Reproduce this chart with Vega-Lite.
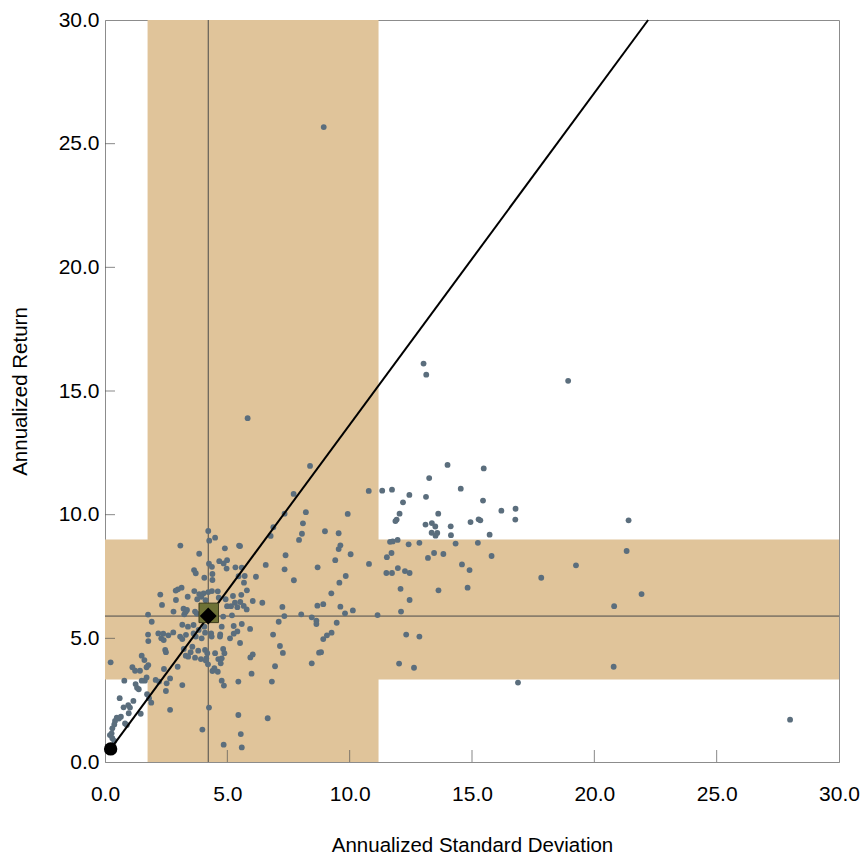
{
  "$schema": "https://vega.github.io/schema/vega-lite/v6.json",
  "width": 734,
  "height": 742,
  "autosize": {"type": "none"},
  "padding": {"left": 105, "top": 20, "right": 24, "bottom": 95},
  "background": "white",
  "config": {
    "view": {"stroke": "#8c8c8c", "strokeWidth": 1},
    "axis": {
      "grid": false,
      "ticks": false,
      "tickSize": 0,
      "zindex": 1,
      "domainColor": "#8c8c8c",
      "domainWidth": 1,
      "labelFont": "Liberation Sans, Arial",
      "labelFontSize": 21,
      "labelColor": "#000000",
      "titleFont": "Liberation Sans, Arial",
      "titleFontSize": 20.5,
      "titleFontWeight": "normal",
      "titleColor": "#000000"
    }
  },
  "datasets": {
    "pts": [
      {"x":8.94,"y":25.67},{"x":5.83,"y":13.90},{"x":13.02,"y":16.11},{"x":13.13,"y":15.66},{"x":18.93,"y":15.41},{"x":16.20,"y":10.16},{"x":16.78,"y":10.24},{"x":16.77,"y":9.80},{"x":21.40,"y":9.77},{"x":21.32,"y":8.53},{"x":19.25,"y":7.95},{"x":17.83,"y":7.45},{"x":21.93,"y":6.79},{"x":20.81,"y":6.30},{"x":20.79,"y":3.85},{"x":16.88,"y":3.21},{"x":28.0,"y":1.71},
      {"x":8.38,"y":11.97},{"x":14.0,"y":12.01},{"x":15.48,"y":11.87},{"x":13.25,"y":11.48},{"x":7.71,"y":10.84},{"x":10.78,"y":10.96},{"x":11.33,"y":10.97},{"x":11.73,"y":11.01},{"x":12.44,"y":10.80},{"x":13.12,"y":10.72},{"x":14.54,"y":11.05},{"x":12.18,"y":10.50},{"x":15.45,"y":10.57},{"x":7.34,"y":10.04},{"x":8.21,"y":10.10},{"x":9.92,"y":10.03},{"x":12.04,"y":10.04},{"x":11.92,"y":9.80},{"x":11.87,"y":9.74},{"x":13.62,"y":10.04},{"x":8.09,"y":9.65},{"x":8.05,"y":9.23},{"x":7.93,"y":8.98},{"x":8.99,"y":9.33},{"x":9.55,"y":9.25},{"x":13.10,"y":9.60},{"x":13.36,"y":9.66},{"x":13.50,"y":9.52},{"x":13.35,"y":9.27},{"x":13.58,"y":9.26},{"x":13.51,"y":9.15},{"x":14.13,"y":9.53},{"x":14.14,"y":9.17},{"x":14.94,"y":9.70},{"x":15.27,"y":9.81},{"x":15.34,"y":9.77},{"x":15.72,"y":9.19},{"x":9.62,"y":8.76},{"x":9.55,"y":8.61},{"x":10.04,"y":8.40},{"x":7.38,"y":8.36},{"x":9.41,"y":8.16},{"x":8.69,"y":7.87},{"x":7.34,"y":7.79},{"x":7.72,"y":7.35},{"x":9.58,"y":7.25},{"x":9.84,"y":7.52},{"x":9.25,"y":6.82},{"x":10.79,"y":8.01},{"x":11.65,"y":8.90},{"x":11.76,"y":8.92},{"x":11.96,"y":8.98},{"x":12.41,"y":8.80},{"x":12.85,"y":8.86},{"x":11.71,"y":8.45},{"x":11.52,"y":8.28},{"x":11.97,"y":7.84},{"x":11.50,"y":7.64},{"x":11.73,"y":7.64},{"x":12.26,"y":7.72},{"x":12.45,"y":7.64},{"x":13.20,"y":8.25},{"x":13.45,"y":8.45},{"x":13.83,"y":8.41},{"x":14.33,"y":8.83},{"x":15.24,"y":8.86},{"x":15.80,"y":8.33},{"x":14.59,"y":7.99},{"x":14.90,"y":7.76},{"x":14.82,"y":7.05},{"x":13.63,"y":6.94},{"x":12.08,"y":7.00},{"x":12.45,"y":6.55},{"x":12.10,"y":6.08},{"x":11.14,"y":5.94},{"x":7.25,"y":6.27},{"x":7.33,"y":5.90},{"x":8.02,"y":5.97},{"x":8.45,"y":5.85},{"x":8.68,"y":6.32},{"x":8.92,"y":6.38},{"x":8.64,"y":5.71},{"x":8.64,"y":5.58},{"x":9.62,"y":6.28},{"x":9.81,"y":6.01},{"x":10.13,"y":6.13},{"x":9.47,"y":5.63},{"x":8.92,"y":4.97},{"x":9.07,"y":5.12},{"x":9.26,"y":5.23},{"x":8.75,"y":4.42},{"x":8.83,"y":4.44},{"x":8.45,"y":3.99},{"x":7.15,"y":4.69},{"x":7.27,"y":4.41},{"x":12.31,"y":5.15},{"x":12.85,"y":5.07},{"x":12.02,"y":3.98},{"x":12.63,"y":3.81},
      {"x":6.88,"y":9.49},{"x":6.77,"y":9.14},{"x":5.52,"y":8.73},{"x":6.57,"y":7.97},{"x":5.71,"y":7.52},{"x":6.17,"y":7.49},{"x":5.80,"y":6.94},{"x":5.57,"y":6.76},{"x":6.04,"y":6.51},{"x":6.43,"y":6.44},{"x":5.67,"y":6.31},{"x":5.79,"y":6.17},{"x":7.10,"y":5.67},{"x":5.93,"y":5.38},{"x":6.87,"y":5.15},
      {"x":4.22,"y":9.34},{"x":4.50,"y":9.07},{"x":4.26,"y":8.95},{"x":3.08,"y":8.75},{"x":4.90,"y":8.64},{"x":5.48,"y":8.75},{"x":3.85,"y":8.42},{"x":4.67,"y":8.12},{"x":4.85,"y":8.03},{"x":4.99,"y":8.16},{"x":4.25,"y":8.02},{"x":4.37,"y":7.89},{"x":4.97,"y":7.82},{"x":5.33,"y":7.87},{"x":5.59,"y":7.86},{"x":3.64,"y":7.76},{"x":3.71,"y":7.63},{"x":4.39,"y":7.60},{"x":4.39,"y":7.36},{"x":4.06,"y":7.45},{"x":5.46,"y":7.51},{"x":5.68,"y":7.25},{"x":3.13,"y":7.05},{"x":2.98,"y":6.98},{"x":2.89,"y":6.93},{"x":2.26,"y":6.77},{"x":3.65,"y":6.91},{"x":3.85,"y":6.79},{"x":4.03,"y":6.82},{"x":4.22,"y":6.87},{"x":4.37,"y":6.91},{"x":4.61,"y":6.90},{"x":3.38,"y":6.68},{"x":3.77,"y":6.58},{"x":3.94,"y":6.68},{"x":4.11,"y":6.54},{"x":4.65,"y":6.64},{"x":4.93,"y":6.58},{"x":5.23,"y":6.71},{"x":2.90,"y":6.55},{"x":5.31,"y":6.44},{"x":5.53,"y":6.47},{"x":2.33,"y":6.35},{"x":4.99,"y":6.30},{"x":5.15,"y":6.30},{"x":5.41,"y":6.26},{"x":3.21,"y":6.20},{"x":3.35,"y":6.15},{"x":3.30,"y":6.07},{"x":2.80,"y":6.08},{"x":3.68,"y":6.08},{"x":3.75,"y":6.00},{"x":1.76,"y":5.96},{"x":1.91,"y":5.67},{"x":3.24,"y":5.97},{"x":4.83,"y":5.88},{"x":5.19,"y":5.93},{"x":5.59,"y":5.58},{"x":5.26,"y":5.50},{"x":5.41,"y":5.28},{"x":5.26,"y":5.19},{"x":4.77,"y":5.47},{"x":4.71,"y":5.16},{"x":3.16,"y":5.55},{"x":3.39,"y":5.47},{"x":3.62,"y":5.54},{"x":3.83,"y":5.34},{"x":4.06,"y":5.47},{"x":4.09,"y":5.23},{"x":3.31,"y":5.14},{"x":3.62,"y":5.20},{"x":1.76,"y":5.15},{"x":2.18,"y":5.20},{"x":2.38,"y":5.19},{"x":2.59,"y":5.12},{"x":2.79,"y":5.24},{"x":4.34,"y":5.20},
      {"x":1.77,"y":4.89},{"x":2.30,"y":5.00},{"x":2.40,"y":4.93},{"x":3.07,"y":5.07},{"x":3.16,"y":4.97},{"x":3.71,"y":5.07},{"x":3.95,"y":5.00},{"x":4.36,"y":5.07},{"x":4.70,"y":5.07},{"x":5.11,"y":5.00},{"x":2.46,"y":4.53},{"x":2.49,"y":4.44},{"x":3.22,"y":4.57},{"x":3.50,"y":4.44},{"x":3.57,"y":4.66},{"x":3.81,"y":4.50},{"x":4.09,"y":4.53},{"x":4.18,"y":4.40},{"x":4.14,"y":4.19},{"x":4.50,"y":4.40},{"x":4.83,"y":4.57},{"x":4.88,"y":4.40},{"x":4.63,"y":4.16},{"x":4.77,"y":4.19},{"x":4.73,"y":3.99},{"x":3.30,"y":4.30},{"x":3.40,"y":4.26},{"x":3.68,"y":4.22},{"x":3.92,"y":4.16},{"x":4.12,"y":4.10},{"x":4.21,"y":3.95},{"x":4.47,"y":3.79},{"x":4.39,"y":3.68},{"x":4.61,"y":3.65},{"x":1.50,"y":4.30},{"x":1.61,"y":4.12},{"x":1.77,"y":3.92},{"x":1.70,"y":3.83},{"x":1.43,"y":3.69},{"x":1.23,"y":3.69},{"x":1.12,"y":3.83},{"x":0.23,"y":4.03},{"x":2.41,"y":3.76},{"x":2.97,"y":3.85},{"x":1.70,"y":3.42},{"x":1.63,"y":3.29},{"x":1.50,"y":3.29},{"x":2.07,"y":3.32},{"x":2.21,"y":3.25},{"x":0.79,"y":3.29},{"x":2.66,"y":3.38},{"x":2.52,"y":3.18},{"x":2.49,"y":2.87},{"x":3.16,"y":3.11},{"x":4.77,"y":3.29},{"x":4.86,"y":3.09},{"x":5.45,"y":3.25},{"x":1.25,"y":3.15},{"x":1.31,"y":3.00},{"x":1.38,"y":2.94},{"x":1.72,"y":2.74},{"x":1.80,"y":2.58},{"x":1.89,"y":2.40},{"x":0.60,"y":2.58},{"x":0.76,"y":2.21},{"x":0.95,"y":2.30},{"x":1.02,"y":2.20},{"x":1.16,"y":2.47},{"x":0.97,"y":1.97},{"x":1.46,"y":1.95},{"x":2.66,"y":2.11},{"x":4.25,"y":2.20},{"x":5.45,"y":1.90},{"x":0.48,"y":1.79},{"x":0.57,"y":1.76},{"x":0.65,"y":1.83},{"x":0.41,"y":1.66},{"x":0.38,"y":1.52},{"x":0.30,"y":1.36},{"x":0.82,"y":1.56},{"x":0.89,"y":1.50},{"x":0.27,"y":1.16},{"x":0.20,"y":1.09},{"x":3.98,"y":1.31},{"x":5.55,"y":1.13},{"x":4.85,"y":0.70},{"x":5.59,"y":0.59},{"x":0.30,"y":0.96},{"x":0.38,"y":0.85},{"x":6.65,"y":1.77},
      {"x":5.52,"y":4.81},{"x":5.94,"y":4.23},{"x":6.04,"y":4.35},{"x":6.95,"y":3.87},{"x":5.99,"y":3.57},{"x":6.82,"y":3.25}
    ]
  },
  "encoding": {
    "x": {
      "field": "x", "type": "quantitative",
      "scale": {"domain": [0, 30], "nice": false, "zero": false},
      "axis": {"title": "Annualized Standard Deviation", "values": [0, 5, 10, 15, 20, 25, 30], "format": ".1f", "labelPadding": 21, "titlePadding": 31, "labelFlush": false}
    },
    "y": {
      "field": "y", "type": "quantitative",
      "scale": {"domain": [0, 30], "nice": false, "zero": false},
      "axis": {"title": "Annualized Return", "values": [0, 5, 10, 15, 20, 25, 30], "format": ".1f", "labelPadding": 6, "titlePadding": 28, "labelFlush": false}
    }
  },
  "layer": [
    {
      "data": {"values": [{"x": 1.74, "x2": 11.18, "y": 0, "y2": 30}, {"x": 0, "x2": 30, "y": 3.34, "y2": 9.0}]},
      "mark": {"type": "rect", "color": "#E0C49A"},
      "encoding": {"x2": {"field": "x2"}, "y2": {"field": "y2"}}
    },
    {
      "data": {"values": [{"x": 4.22, "x2": 4.22, "y": 0, "y2": 30}, {"x": 0, "x2": 30, "y": 5.9, "y2": 5.9}]},
      "mark": {"type": "rule", "color": "#4a4a4a", "strokeWidth": 1},
      "encoding": {"x2": {"field": "x2"}, "y2": {"field": "y2"}}
    },
    {
      "data": {"values": [{"x": 5, "y": 0}, {"x": 10, "y": 0}, {"x": 15, "y": 0}, {"x": 20, "y": 0}, {"x": 25, "y": 0}]},
      "mark": {"type": "tick", "orient": "vertical", "size": 24, "thickness": 1, "color": "#555555", "clip": true}
    },
    {
      "data": {"values": [{"x": 0, "y": 5}, {"x": 0, "y": 10}, {"x": 0, "y": 15}, {"x": 0, "y": 20}, {"x": 0, "y": 25}]},
      "mark": {"type": "tick", "orient": "horizontal", "size": 20, "thickness": 1, "color": "#555555", "clip": true}
    },
    {
      "data": {"name": "pts"},
      "mark": {"type": "circle", "size": 34, "color": "#5B6E7D", "opacity": 1}
    },
    {
      "data": {"values": [{"x": 0.23, "y": 0.53}, {"x": 22.2, "y": 30}]},
      "mark": {"type": "line", "color": "#000000", "strokeWidth": 2}
    },
    {
      "data": {"values": [{"x": 4.24, "y": 6.03}]},
      "mark": {"type": "square", "size": 380, "fill": "#6E7236", "stroke": "#3C3C1E", "strokeWidth": 1, "opacity": 1, "filled": true}
    },
    {
      "data": {"values": [{"x": 4.22, "y": 5.9}]},
      "mark": {"type": "point", "shape": "diamond", "size": 200, "fill": "#000000", "stroke": "#000000", "filled": true, "opacity": 1}
    },
    {
      "data": {"values": [{"x": 0.23, "y": 0.53}]},
      "mark": {"type": "circle", "size": 180, "color": "#000000", "opacity": 1}
    }
  ]
}
